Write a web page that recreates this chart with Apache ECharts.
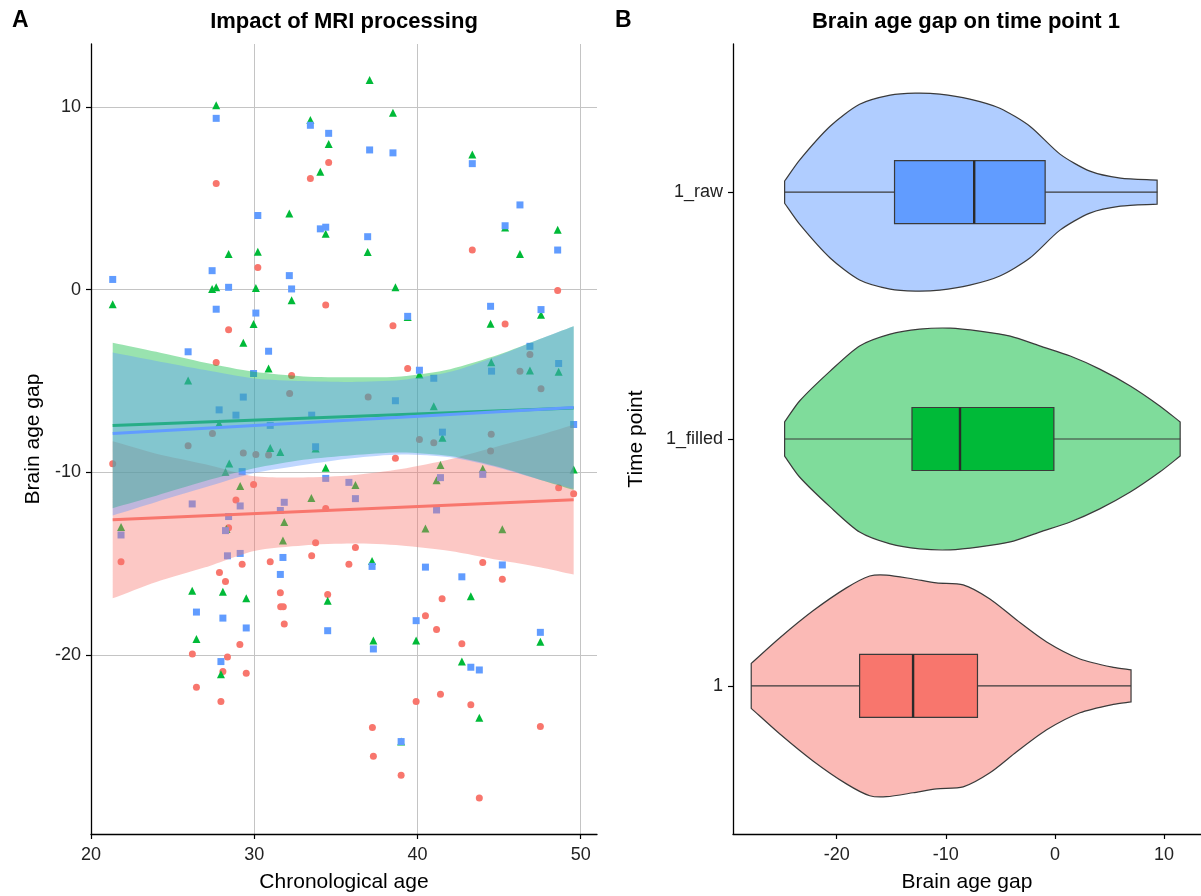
<!DOCTYPE html>
<html>
<head>
<meta charset="utf-8">
<title>Brain age gap</title>
<script src="https://cdn.jsdelivr.net/npm/echarts@6/dist/echarts.min.js"></script>
<style>
  html, body { margin: 0; padding: 0; background: #fff; }
  #chart { width: 1201px; height: 896px; }
</style>
</head>
<body>
<div id="chart"></div>
<script>
// ---------- panel A: points, [chronological age, brain age gap]
var tp1Pts = [[27.67,5.81],[34.56,6.96],[33.44,6.08],[30.22,1.22],[34.38,-0.84],[43.36,2.17],[48.59,-0.04],[28.43,-2.2],
  [27.67,-3.99],[32.29,-4.7],[32.17,-5.68],[27.44,-7.87],[25.95,-8.54],[29.33,-8.94],[30.1,-9.02],[30.88,-9.05],[21.33,-9.53],
  [29.96,-10.67],[28.88,-11.51],[34.38,-11.98],[28.43,-13.04],[33.76,-13.86],[33.52,-14.56],[21.84,-14.9],[45.37,-1.88],
  [38.5,-1.97],[46.89,-3.55],[46.28,-4.46],[47.57,-5.43],[39.4,-4.32],[36.98,-5.88],[40.12,-8.2],[41.0,-8.38],[44.52,-7.91],
  [44.48,-8.83],[38.65,-9.23],[48.65,-10.84],[49.57,-11.17],[36.2,-14.12],[29.26,-15.03],[27.87,-15.48],[28.24,-15.97],
  [30.98,-14.9],[35.8,-15.03],[31.6,-16.59],[31.62,-17.36],[31.78,-17.36],[31.84,-18.31],[34.5,-16.69],[29.12,-19.42],
  [26.21,-19.95],[28.36,-20.11],[28.08,-20.91],[29.51,-21.0],[26.46,-21.77],[27.96,-22.55],[44.0,-14.94],[45.2,-15.85],
  [41.51,-16.92],[40.49,-17.85],[41.17,-18.6],[42.72,-19.38],[41.41,-22.15],[39.92,-22.55],[43.27,-22.72],[47.53,-23.92],
  [37.24,-23.97],[37.3,-25.55],[39.0,-26.59],[43.79,-27.83]];

var tp1FilledPts = [[27.67,10.1],[33.44,9.29],[34.56,7.98],[34.05,6.45],[32.15,4.17],[34.38,3.06],[28.43,1.95],[30.22,2.08],
  [27.42,0.04],[27.67,0.13],[30.1,0.09],[21.33,-0.8],[32.29,-0.58],[37.07,11.48],[38.5,9.69],[43.36,7.4],[45.37,3.4],
  [48.59,3.28],[46.28,1.95],[36.95,2.06],[38.65,0.13],[47.57,-1.37],[39.4,-1.5],[29.96,-1.88],[29.33,-2.91],[30.88,-4.32],
  [25.95,-4.97],[27.85,-7.32],[30.98,-8.67],[31.6,-8.89],[33.76,-8.7],[28.47,-9.51],[28.24,-9.98],[34.38,-9.75],
  [29.14,-10.75],[33.5,-11.4],[21.84,-12.99],[31.84,-12.72],[28.3,-13.1],[31.76,-13.73],[44.48,-1.86],[44.52,-3.97],
  [46.89,-4.43],[48.65,-4.5],[40.12,-4.64],[41.0,-6.38],[41.53,-8.1],[41.41,-9.6],[44.0,-9.8],[49.57,-9.84],[36.2,-10.69],
  [41.17,-10.44],[40.49,-13.08],[45.2,-13.11],[26.2,-16.48],[28.08,-16.54],[29.51,-16.89],[34.5,-17.03],[26.46,-19.13],
  [27.96,-21.06],[37.22,-14.86],[43.27,-16.79],[37.3,-19.2],[39.92,-19.2],[47.53,-19.27],[42.72,-20.36],[43.79,-23.44],
  [39.0,-24.74]];

var tp1RawPts = [[27.67,9.38],[33.44,9.0],[34.56,8.56],[30.22,4.06],[34.05,3.33],[34.38,3.42],[27.42,1.04],[32.15,0.77],
  [21.33,0.56],[28.43,0.13],[32.29,0.04],[27.67,-1.07],[30.1,-1.28],[37.07,7.65],[38.5,7.49],[43.36,6.9],[46.28,4.64],
  [45.37,3.5],[48.59,2.17],[36.95,2.9],[44.48,-0.91],[47.57,-1.09],[39.4,-1.46],[25.95,-3.4],[30.88,-3.37],[29.96,-4.59],
  [29.33,-5.88],[27.85,-6.58],[28.88,-6.87],[33.52,-6.87],[30.98,-7.43],[33.76,-8.6],[29.26,-9.96],[34.38,-10.33],
  [35.8,-10.55],[26.2,-11.73],[29.14,-11.84],[31.84,-11.64],[31.6,-12.09],[28.43,-12.42],[21.84,-13.43],[28.24,-13.19],
  [28.36,-14.57],[29.14,-14.44],[31.76,-14.66],[46.89,-3.1],[44.54,-4.46],[48.65,-4.04],[40.12,-4.41],[41.0,-4.85],
  [38.65,-6.08],[41.53,-7.8],[49.57,-7.38],[44.0,-10.11],[36.2,-11.44],[41.41,-10.29],[41.17,-12.06],[31.6,-15.59],
  [26.46,-17.65],[28.08,-17.98],[29.51,-18.52],[34.5,-18.67],[27.96,-20.36],[37.22,-15.15],[40.49,-15.19],[45.2,-15.07],
  [42.72,-15.72],[39.92,-18.12],[37.3,-19.67],[47.53,-18.76],[43.27,-20.67],[43.79,-20.82],[39.0,-24.74]];

// fitted lines (ends) and their confidence bands
var fitX = [21.33, 49.57];
var fit1 = [-12.6, -11.5];
var fitFilled = [-7.43, -6.48];
var fitRaw = [-7.87, -6.45];

var bandX = [21.33, 24, 27, 30, 33, 36, 39, 42, 45, 47.5, 49.57];
var band1Lo = [-16.9, -16.0, -15.2, -14.3, -14.0, -13.9, -14.0, -14.3, -14.8, -15.2, -15.6];
var band1Hi = [-8.3, -8.98, -9.56, -10.22, -10.28, -10.16, -9.82, -9.28, -8.56, -7.96, -7.4];
var bandFilledLo = [-11.96, -11.28, -10.48, -9.78, -9.31, -9.06, -8.91, -9.11, -9.71, -10.4, -10.96];
var bandFilledHi = [-2.9, -3.4, -4.0, -4.5, -4.75, -4.8, -4.75, -4.35, -3.55, -2.7, -2.0];
var bandRawLo = [-12.36, -11.62, -10.82, -10.04, -9.6, -9.23, -9.03, -9.18, -9.76, -10.4, -10.9];
var bandRawHi = [-3.44, -3.9, -4.4, -4.86, -5.0, -5.05, -4.95, -4.5, -3.6, -2.7, -2.0];

// ---------- panel B: violins (half width in category units) and box stats [min, q1, median, q3, max]
var catLabels = ['1', '1_filled', '1_raw'];

var vio1X = [-27.83, -25.23, -22.17, -19.11, -16.97, -15.44, -13.0, -10.85, -8.41, -5.96, -3.51, -0.76, 2.29, 5.35, 6.97];
var vio1W = [0.091, 0.194, 0.304, 0.397, 0.445, 0.449, 0.433, 0.417, 0.409, 0.352, 0.267, 0.178, 0.109, 0.075, 0.065];
var vioFilledX = [-24.77, -23.4, -20.6, -17.9, -15.1, -12.4, -9.6, -6.9, -4.1, -1.4, 1.4, 4.1, 6.9, 9.6, 11.47];
var vioFilledW = [0.069, 0.154, 0.275, 0.377, 0.425, 0.445, 0.449, 0.437, 0.417, 0.377, 0.336, 0.283, 0.215, 0.134, 0.069];
var vioRawX = [-24.77, -23.4, -20.6, -17.9, -15.1, -12.8, -10.55, -7.8, -5.05, -2.3, 0.46, 3.2, 6.0, 9.36];
var vioRawW = [0.045, 0.13, 0.267, 0.356, 0.393, 0.401, 0.397, 0.377, 0.34, 0.267, 0.154, 0.085, 0.057, 0.049];

var box1 = [-27.83, -17.9, -13.0, -7.1, 6.97];
var boxFilled = [-24.74, -13.1, -8.7, -0.1, 11.48];
var boxRaw = [-24.74, -14.7, -7.4, -0.9, 9.38];

var colRed = '#F8766D', colGreen = '#00BA38', colBlue = '#619CFF';
var FONT = 'Liberation Sans, Arial, Helvetica, sans-serif';

// duplicate the end points so the smoothed outline keeps sharp corners
function withCorners(pts) {
    return [pts[0]].concat(pts, [pts[pts.length - 1]]);
}

function bandSeries(lo, hi, color, z) {
    return {
        type: 'custom', xAxisIndex: 0, yAxisIndex: 0, z: z, silent: true,
        data: [[bandX[0], lo[0]]],
        renderItem: function (params, api) {
            var upper = bandX.map(function (x, i) { return api.coord([x, hi[i]]); });
            var lower = bandX.map(function (x, i) { return api.coord([x, lo[i]]); }).reverse();
            return {
                type: 'polygon',
                shape: { points: withCorners(upper).concat(withCorners(lower)), smooth: 0.25 },
                style: { fill: color, opacity: 0.4 }
            };
        }
    };
}

function lineSeries(ys, color, z) {
    return {
        type: 'line', xAxisIndex: 0, yAxisIndex: 0, z: z, silent: true,
        data: [[fitX[0], ys[0]], [fitX[1], ys[1]]],
        symbol: 'none', lineStyle: { color: color, width: 3 }
    };
}

function scatterSeries(name, pts, symbol, size, color) {
    return {
        name: name, type: 'scatter', xAxisIndex: 0, yAxisIndex: 0, z: 2,
        data: pts, symbol: symbol, symbolSize: size,
        itemStyle: { color: color, opacity: 1 }
    };
}

var violinX = [vio1X, vioFilledX, vioRawX];
var violinW = [vio1W, vioFilledW, vioRawW];
var boxStats = [box1, boxFilled, boxRaw];
var violinCol = [colRed, colGreen, colBlue];
var BOX_HALF = 0.1275;

var violinSeries = {
    type: 'custom', xAxisIndex: 1, yAxisIndex: 1, silent: true,
    data: [[box1[1], 1], [boxFilled[1], 2], [boxRaw[1], 3]],
    renderItem: function (params, api) {
        var k = params.dataIndex, cat = k + 1;
        var xs = violinX[k], ws = violinW[k], b = boxStats[k];
        var top = xs.map(function (x, i) { return api.coord([x, cat + ws[i]]); });
        var bot = xs.map(function (x, i) { return api.coord([x, cat - ws[i]]); }).reverse();
        var wl = api.coord([b[0], cat]), wr = api.coord([b[4], cat]);
        var q1t = api.coord([b[1], cat + BOX_HALF]), q3b = api.coord([b[3], cat - BOX_HALF]);
        var mt = api.coord([b[2], cat + BOX_HALF]), mb = api.coord([b[2], cat - BOX_HALF]);
        return {
            type: 'group',
            children: [
                { type: 'polygon', shape: { points: withCorners(top).concat(withCorners(bot)), smooth: 0.25 },
                  style: { fill: violinCol[k], opacity: 1, fillOpacity: 0.5, stroke: '#3a3a3a', lineWidth: 1.2 } },
                { type: 'line', shape: { x1: wl[0], y1: wl[1], x2: wr[0], y2: wr[1] },
                  style: { stroke: '#3a3a3a', lineWidth: 1.2 } },
                { type: 'rect', shape: { x: q1t[0], y: q1t[1], width: q3b[0] - q1t[0], height: q3b[1] - q1t[1] },
                  style: { fill: violinCol[k], stroke: '#3a3a3a', lineWidth: 1.2 } },
                { type: 'line', shape: { x1: mt[0], y1: mt[1], x2: mb[0], y2: mb[1] },
                  style: { stroke: '#2a2a2a', lineWidth: 2.4 } }
            ]
        };
    }
};

var axisLineStyle = { onZero: false, lineStyle: { color: '#000', width: 1.3 } };
var tickStyle = { show: true, length: 5, lineStyle: { color: '#000', width: 1.2 } };
var labelStyle = { fontSize: 18, color: '#222', fontFamily: FONT };
var nameStyle = { fontSize: 21, color: '#000', fontFamily: FONT };

var option = {
    animation: false,
    backgroundColor: '#fff',
    title: [
        { text: 'A', left: 12, top: 9, padding: 0, textStyle: { fontSize: 23, fontWeight: 'bold', color: '#000', fontFamily: FONT } },
        { text: 'Impact of MRI processing', left: 344, top: 11, padding: 0, textAlign: 'center',
          textStyle: { fontSize: 22, fontWeight: 'bold', color: '#000', fontFamily: FONT } },
        { text: 'B', left: 615, top: 9, padding: 0, textStyle: { fontSize: 23, fontWeight: 'bold', color: '#000', fontFamily: FONT } },
        { text: 'Brain age gap on time point 1', left: 966, top: 11, padding: 0, textAlign: 'center',
          textStyle: { fontSize: 22, fontWeight: 'bold', color: '#000', fontFamily: FONT } }
    ],
    grid: [
        { left: 91, top: 44, width: 506, height: 790, outerBoundsMode: 'none' },
        { left: 733, top: 44, width: 468, height: 790, outerBoundsMode: 'none' }
    ],
    xAxis: [
        { type: 'value', gridIndex: 0, min: 20, max: 51,
          axisLine: axisLineStyle, axisTick: Object.assign({ customValues: [20, 30, 40, 50] }, tickStyle),
          axisLabel: Object.assign({ customValues: [20, 30, 40, 50], margin: 12 }, labelStyle),
          splitLine: { show: true, lineStyle: { color: '#c4c4c4', width: 1 } },
          name: 'Chronological age', nameLocation: 'middle', nameGap: 38, nameTextStyle: nameStyle },
        { type: 'value', gridIndex: 1, min: -29.5, max: 13.38,
          axisLine: axisLineStyle, axisTick: Object.assign({ customValues: [-20, -10, 0, 10] }, tickStyle),
          axisLabel: Object.assign({ customValues: [-20, -10, 0, 10], margin: 12 }, labelStyle),
          splitLine: { show: false },
          name: 'Brain age gap', nameLocation: 'middle', nameGap: 38, nameTextStyle: nameStyle }
    ],
    yAxis: [
        { type: 'value', gridIndex: 0, min: -29.8, max: 13.45,
          axisLine: axisLineStyle, axisTick: Object.assign({ customValues: [-20, -10, 0, 10] }, tickStyle),
          axisLabel: Object.assign({ customValues: [-20, -10, 0, 10], margin: 10 }, labelStyle),
          splitLine: { show: true, lineStyle: { color: '#c4c4c4', width: 1 } },
          name: 'Brain age gap', nameLocation: 'middle', nameGap: 47, nameRotate: 90, nameTextStyle: nameStyle },
        { type: 'value', gridIndex: 1, min: 0.4, max: 3.6,
          axisLine: axisLineStyle, axisTick: Object.assign({ customValues: [1, 2, 3] }, tickStyle),
          axisLabel: Object.assign({ customValues: [1, 2, 3], margin: 10,
              formatter: function (v) { return catLabels[Math.round(v) - 1]; } }, labelStyle),
          splitLine: { show: false },
          name: 'Time point', nameLocation: 'middle', nameGap: 86, nameRotate: 90, nameTextStyle: nameStyle }
    ],
    series: [
        scatterSeries('1', tp1Pts, 'circle', 7, colRed),
        scatterSeries('1_filled', tp1FilledPts, 'triangle', 8, colGreen),
        scatterSeries('1_raw', tp1RawPts, 'rect', 7, colBlue),
        bandSeries(band1Lo, band1Hi, colRed, 3),
        lineSeries(fit1, colRed, 4),
        bandSeries(bandFilledLo, bandFilledHi, colGreen, 5),
        lineSeries(fitFilled, colGreen, 6),
        bandSeries(bandRawLo, bandRawHi, colBlue, 7),
        lineSeries(fitRaw, colBlue, 8),
        violinSeries
    ]
};

var myChart = echarts.init(document.getElementById('chart'));
myChart.setOption(option);
</script>
</body>
</html>
